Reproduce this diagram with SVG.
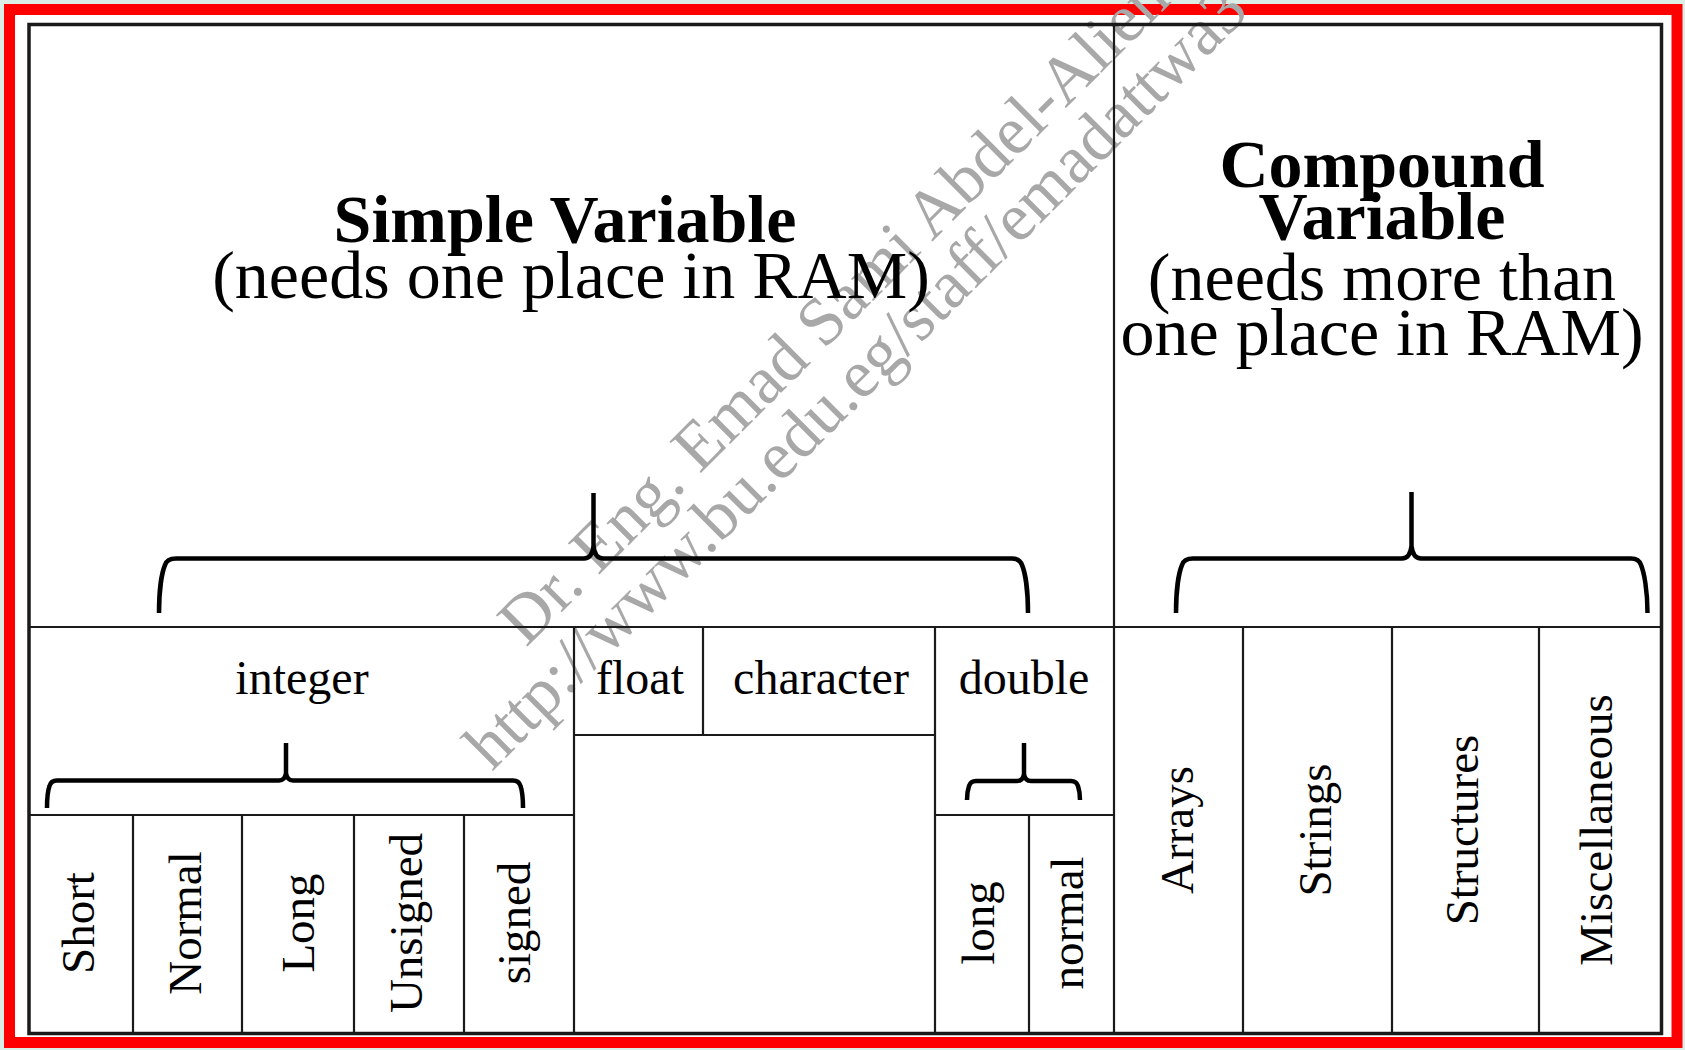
<svg xmlns="http://www.w3.org/2000/svg" width="1685" height="1050" viewBox="0 0 1685 1050">
<style>
.ln{stroke:#1a1a1a;stroke-width:2.2;fill:none}
.fr{stroke:#1a1a1a;stroke-width:3.5;fill:none}
.br{stroke:#000;stroke-width:4.5;fill:none;stroke-linejoin:round}
.hd{font-family:"Liberation Serif","Times New Roman",serif;font-size:68px;fill:#000;text-anchor:middle}
.b{font-weight:bold}
.lb{font-family:"Liberation Serif","Times New Roman",serif;font-size:48px;fill:#000;text-anchor:middle}
.vl{font-family:"Liberation Serif","Times New Roman",serif;font-size:47px;fill:#000;text-anchor:middle}
.wm{font-family:"Liberation Serif","Times New Roman",serif;font-size:68px;fill:#a8a8a8}
</style>
<rect x="0" y="0" width="1685" height="1050" fill="#dbefe7"/>
<rect x="4" y="4" width="1678" height="1044" fill="#fff"/>
<rect x="9.5" y="9.5" width="1667.5" height="1033" fill="none" stroke="#ff0000" stroke-width="11"/>
<g id="watermark">
<text class="wm" transform="translate(526,648) rotate(-45)">Dr. Eng. Emad Sami Abdel-Alien</text>
<text class="wm" transform="translate(492,772) rotate(-45)">http://www.bu.edu.eg/staff/emadattwa3</text>
</g>
<g id="connectors">
<rect class="fr" x="29" y="24.5" width="1632.5" height="1009"/>
<line class="ln" x1="29" y1="627" x2="1661" y2="627"/>
<line class="ln" x1="1114" y1="24.5" x2="1114" y2="1033"/>
<line class="ln" x1="574" y1="627" x2="574" y2="1033"/>
<line class="ln" x1="29" y1="815" x2="574" y2="815"/>
<line class="ln" x1="133" y1="815" x2="133" y2="1033"/>
<line class="ln" x1="242" y1="815" x2="242" y2="1033"/>
<line class="ln" x1="354" y1="815" x2="354" y2="1033"/>
<line class="ln" x1="464" y1="815" x2="464" y2="1033"/>
<line class="ln" x1="574" y1="735" x2="935" y2="735"/>
<line class="ln" x1="703" y1="627" x2="703" y2="735"/>
<line class="ln" x1="935" y1="627" x2="935" y2="1033"/>
<line class="ln" x1="935" y1="815" x2="1114" y2="815"/>
<line class="ln" x1="1029" y1="815" x2="1029" y2="1033"/>
<line class="ln" x1="1243" y1="627" x2="1243" y2="1033"/>
<line class="ln" x1="1392" y1="627" x2="1392" y2="1033"/>
<line class="ln" x1="1539" y1="627" x2="1539" y2="1033"/>
<path class="br" d="M159,613 C159,590 162,572 165,565 Q167,558.5 176,558.5 L584,558.5 Q592,558.5 593.5,546 L593.5,493 M593.5,546 Q595,558.5 603,558.5 L1012,558.5 Q1020,558.5 1022,565 C1025,572 1028,590 1028,613"/>
<path class="br" d="M1176,613 C1176,590 1179,572 1182,565 Q1184,558.5 1193,558.5 L1402,558.5 Q1410,558.5 1411.5,546 L1411.5,492 M1411.5,546 Q1413,558.5 1421,558.5 L1631,558.5 Q1639,558.5 1641,565 C1644,572 1647.5,590 1647.5,613"/>
<path class="br" d="M47,808 C47,797 48,790 49.5,786 Q51,780.5 57,780.5 L279,780.5 Q285,780.5 286,773 L286,743 M286,773 Q287,780.5 293,780.5 L513,780.5 Q519,780.5 520.5,786 C522,790 523,797 523,808"/>
<path class="br" d="M967,800 C967,793 968,789 969,786 Q970.5,781 976,781 L1017,781 Q1023,781 1024,774 L1024,743 M1024,774 Q1025,781 1031,781 L1071,781 Q1076.5,781 1078,786 C1079,789 1080,793 1080,800"/>
</g>
<g id="simple-variable">
<text class="hd b" x="565" y="242">Simple Variable</text>
<text class="hd" x="571" y="298">(needs one place in RAM)</text>
</g>
<g id="compound-variable">
<text class="hd b" x="1382" y="187">Compound</text>
<text class="hd b" x="1382" y="239">Variable</text>
<text class="hd" x="1382" y="300">(needs more than</text>
<text class="hd" x="1382" y="355">one place in RAM)</text>
</g>
<g id="integer"><text class="lb" x="302" y="694">integer</text></g>
<g id="float"><text class="lb" x="640" y="694">float</text></g>
<g id="character"><text class="lb" x="821" y="694">character</text></g>
<g id="double"><text class="lb" x="1024" y="694">double</text></g>
<g id="short"><text class="vl" transform="translate(94,923) rotate(-90)">Short</text></g>
<g id="normal-int"><text class="vl" transform="translate(201,923) rotate(-90)">Normal</text></g>
<g id="long-int"><text class="vl" transform="translate(314,923) rotate(-90)">Long</text></g>
<g id="unsigned"><text class="vl" transform="translate(422,923) rotate(-90)">Unsigned</text></g>
<g id="signed"><text class="vl" transform="translate(530,923) rotate(-90)">signed</text></g>
<g id="long-double"><text class="vl" transform="translate(994,923) rotate(-90)">long</text></g>
<g id="normal-double"><text class="vl" transform="translate(1083,923) rotate(-90)">normal</text></g>
<g id="arrays"><text class="vl" transform="translate(1193,830) rotate(-90)">Arrays</text></g>
<g id="strings"><text class="vl" transform="translate(1331,830) rotate(-90)">Strings</text></g>
<g id="structures"><text class="vl" transform="translate(1478,830) rotate(-90)">Structures</text></g>
<g id="miscellaneous"><text class="vl" transform="translate(1612,830) rotate(-90)">Miscellaneous</text></g>
</svg>
